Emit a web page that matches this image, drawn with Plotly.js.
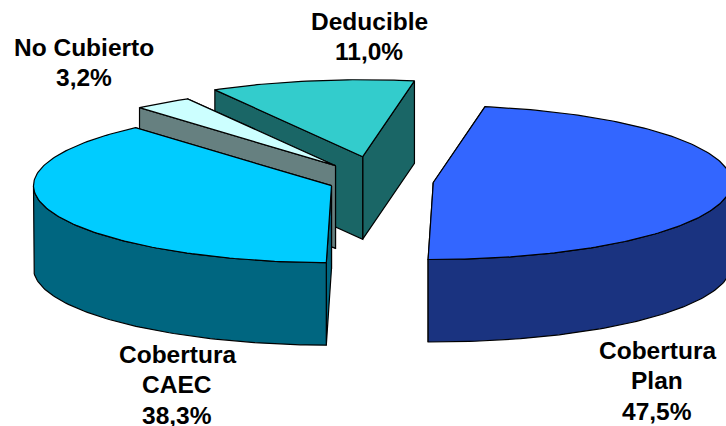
<!DOCTYPE html>
<html><head><meta charset="utf-8">
<script src="https://cdn.plot.ly/plotly-3.0.1.min.js"></script>
<style>html,body{margin:0;padding:0;background:#fff}#c{width:726px;height:426px}</style>
</head><body><div id="c"></div>
<script>
const categories = [["Cobertura","Plan"], ["Cobertura","CAEC"], ["No Cubierto"], ["Deducible"]];
const shares = [47.5, 38.3, 3.16, 11.04];
const topColors = ["#3366FF", "#00CCFF", "#CCFFFF", "#33CCCC"];
const sideColors = ["#1A3380", "#006680", "#668080", "#1A6666"];
const centers = [[433.3,182.5],[331.5,185.7],[335.5,165.7],[362.7,156.7]];
const labelPos = [[657,350],[177,354],[83.5,47],[369,21]];
const lineGap = 30.5;
const startAngle = 10, rx = 298, ry = 77, depth = 82.5;

const rad = d => d*Math.PI/180;
const px = (c,t) => c[0] + rx*Math.sin(rad(t));
const py = (c,t) => c[1] - ry*Math.cos(rad(t));
function poly(xs, ys, color){
  return {type:"scatter", mode:"lines", x:xs.concat(xs[0]), y:ys.concat(ys[0]), fill:"toself",
    fillcolor:color, line:{color:"#000", width:1.2}, hoverinfo:"skip", showlegend:false};
}
function arc(c,a,b,dy){ const xs=[],ys=[]; const n=Math.max(2,Math.ceil(Math.abs(b-a)));
  for(let i=0;i<=n;i++){const t=a+(b-a)*i/n; xs.push(px(c,t)); ys.push(py(c,t)+dy);} return [xs,ys]; }

let a = startAngle; const spans = shares.map(v=>{const s=[a,a+v*3.6]; a+=v*3.6; return s;});
const traces = [];
[3,2,1,0].forEach(i=>{
  const c=centers[i], [t0,t1]=spans[i];
  [t0,t1].sort((p,q)=>py(c,p)-py(c,q)).forEach(t=>{
    traces.push(poly([c[0],px(c,t),px(c,t),c[0]],[c[1],py(c,t),py(c,t)+depth,c[1]+depth],sideColors[i]));
  });
  const w0=Math.max(t0,90), w1=Math.min(t1,270);
  if(w1>w0){
    const [x1,y1]=arc(c,w0,w1,0), [x2,y2]=arc(c,w1,w0,depth);
    traces.push(poly(x1.concat(x2),y1.concat(y2),sideColors[i]));
  }
  const [xa,ya]=arc(c,t0,t1,0);
  traces.push(poly([c[0]].concat(xa),[c[1]].concat(ya),topColors[i]));
});
const annotations = [];
categories.forEach((lines,i)=>{
  lines.concat(shares[i].toFixed(1).replace(".",",")+"%").forEach((txt,j)=>{
    annotations.push({
      x:labelPos[i][0], y:labelPos[i][1]+j*lineGap, xref:"x", yref:"y", showarrow:false, align:"center",
      text:"<b>"+txt+"</b>",
      font:{family:"Liberation Sans, Arial, sans-serif", size:24.5, color:"#000"}
    });
  });
});
Plotly.newPlot("c",traces,{
  width:726,height:426,margin:{l:0,r:0,t:0,b:0},paper_bgcolor:"#fff",plot_bgcolor:"#fff",showlegend:false,
  xaxis:{range:[0,726],visible:false,fixedrange:true},
  yaxis:{range:[426,0],visible:false,fixedrange:true},
  annotations
},{staticPlot:true,displayModeBar:false});
</script></body></html>
